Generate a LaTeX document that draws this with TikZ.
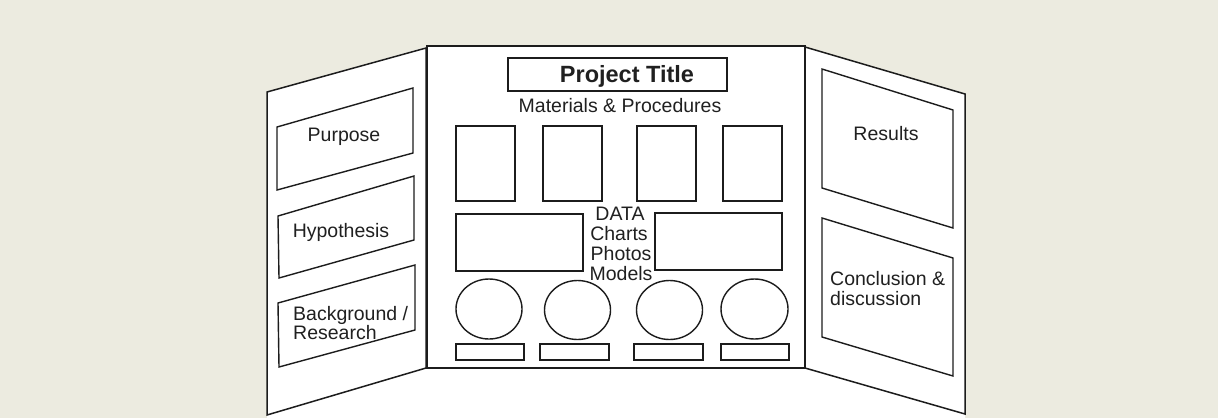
\documentclass[tikz,border=0pt]{standalone}
\usepackage{fontspec}
\setmainfont{Liberation Sans}
\usetikzlibrary{positioning}
\definecolor{wallbg}{HTML}{ECEBE0}
\definecolor{boardline}{HTML}{1C1C1C}
\definecolor{labeltext}{HTML}{202020}

\begin{document}
\begin{tikzpicture}[x=1pt,y=-1pt,
 font=\fontsize{19.5}{20}\selectfont,
 board/.style={draw=boardline,line width=1.5pt,line join=miter},
 card/.style={draw=boardline,line width=1.4pt},
 lbl/.style={inner sep=0pt,anchor=base,text=labeltext},
 lbll/.style={lbl,anchor=base west}]
% background and white board area
\fill[wallbg] (0,0) rectangle (1218,418);
\useasboundingbox (0,0) rectangle (1218,418);
\fill[white] (267,92)--(426,47)--(805,47)--(965,94)--(965,418)--(267,418)--cycle;

% the three panels
\draw[board] (267,92)--(426,48)--(426,368)--(267,415)--cycle;
\draw[board] (427,46) rectangle (805,368);
\draw[board] (805,47)--(965,94)--(965,414)--(805,368)--cycle;

% left flap cards
\draw[card] (277,127)--(413,88)--(413,153)--(277,190)--cycle;
\draw[card] (278,216)--(414,176)--(414,240)--(279,278)--cycle;
\draw[card] (278,303)--(415,265)--(415,330)--(279,367)--cycle;
\node[lbl] (purpose) at (344,141) {Purpose};
\node[lbl] (hypo) at (341,237) {Hypothesis};
\node[lbll] (backgr) at (293,320) {Background /};
\node[lbll] (research) at (293,339.5) {Research};

% right flap cards
\draw[card] (822,69)--(953,110)--(953,228)--(822,188)--cycle;
\draw[card] (822,218)--(953,258)--(953,376)--(822,337)--cycle;
\node[lbl] (results) at (886,140) {Results};
\node[lbll] (concl) at (830,285) {Conclusion \&};
\node[lbll] (discuss) at (830,305) {discussion};

% centre panel
\draw[card] (508,58) rectangle (727,91);
\node[lbl,font=\fontsize{23.5}{24}\selectfont\bfseries] (title) at (627,82) {Project Title};
\node[lbl] (matproc) at (620,112) {Materials \& Procedures};

\draw[card] (456,126) rectangle (515,201);
\draw[card] (543,126) rectangle (602,201);
\draw[card] (637,126) rectangle (696,201);
\draw[card] (723,126) rectangle (782,201);

\draw[card] (456,214) rectangle (583,271);
\draw[card] (655,213) rectangle (782,270);
\node[lbl] (data) at (620,220.5) {DATA};
\node[lbl] (charts) at (619,240.5) {Charts};
\node[lbl] (photos) at (621,260.5) {Photos};
\node[lbl] (models) at (621,280) {Models};

\draw[card] (489,309) ellipse [x radius=33,y radius=30];
\draw[card] (577.5,310) ellipse [x radius=33,y radius=29.5];
\draw[card] (669.5,310) ellipse [x radius=33,y radius=29.5];
\draw[card] (754.5,309) ellipse [x radius=33.5,y radius=30];

\draw[card] (456,344) rectangle (524,360);
\draw[card] (540,344) rectangle (609,360);
\draw[card] (634,344) rectangle (703,360);
\draw[card] (721,344) rectangle (789,360);
\end{tikzpicture}
\end{document}
